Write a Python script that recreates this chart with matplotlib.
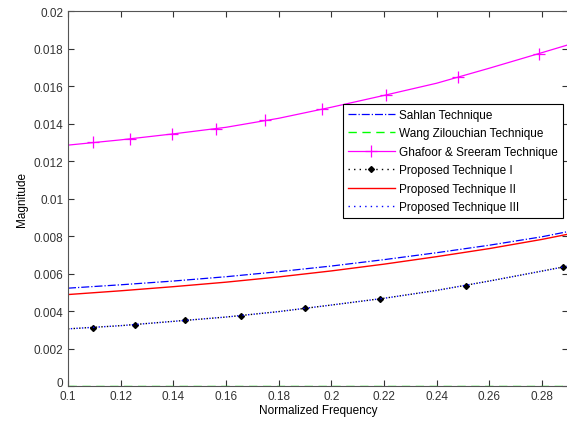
import matplotlib
matplotlib.use("Agg")
import matplotlib.pyplot as plt
import matplotlib.transforms as mtransforms
from matplotlib.lines import Line2D

plt.rcParams["font.family"] = ["Liberation Sans", "DejaVu Sans"]

# curve samples
freq = [0.10, 0.12, 0.14, 0.16, 0.18, 0.20, 0.22, 0.24, 0.26, 0.28, 0.29]
sahlan = [0.00522, 0.00540, 0.00560, 0.00583, 0.00610, 0.00640, 0.00674, 0.00711, 0.00751, 0.00796, 0.00824]
wang = [0.0, 0.0, 0.0, 0.0, 0.0, 0.0, 0.0, 0.0, 0.0, 0.0, 0.0]
ghafoor = [0.01285, 0.01313, 0.01345, 0.01380, 0.01428, 0.01487, 0.01550, 0.01615, 0.01695, 0.01778, 0.0182]
prop1 = [0.00305, 0.00322, 0.00345, 0.00368, 0.00397, 0.00432, 0.00468, 0.00510, 0.00560, 0.00613, 0.0064]
prop2 = [0.00488, 0.00508, 0.00530, 0.00554, 0.00582, 0.00614, 0.00650, 0.00690, 0.00733, 0.00782, 0.00810]
prop3 = [0.00305, 0.00322, 0.00345, 0.00368, 0.00397, 0.00432, 0.00468, 0.00510, 0.00560, 0.00613, 0.0064]

# marker points
ghafoor_mk_f = [0.1095, 0.1236, 0.1395, 0.1563, 0.1749, 0.1966, 0.2209, 0.2483, 0.2791]
ghafoor_mk_v = [0.0130, 0.0132, 0.01345, 0.0137, 0.0142, 0.0148, 0.01552, 0.01646, 0.01773]
prop1_mk_f = [0.1095, 0.1255, 0.1445, 0.1658, 0.1901, 0.2186, 0.2513, 0.2882]
prop1_mk_v = [0.00309, 0.00327, 0.00352, 0.00375, 0.00416, 0.00464, 0.00533, 0.00633]

labels = ["Sahlan Technique", "Wang Zilouchian Technique", "Ghafoor & Sreeram Technique",
          "Proposed Technique I", "Proposed Technique II", "Proposed Technique III"]

fig = plt.figure(figsize=(5.67, 4.31), dpi=100)
ax = fig.add_axes([0.12, 0.102, 0.882, 0.870])

ax.plot(freq, sahlan, color="blue", linestyle="-.", lw=0.9)
ax.plot(freq, wang, color="#00ff00", linestyle=(0, (6, 4)), lw=1.0)
ax.plot(freq, ghafoor, color="magenta", lw=0.9)
ax.plot(ghafoor_mk_f, ghafoor_mk_v, color="magenta", linestyle="none", marker="+", ms=9, mew=0.9)
ax.plot(freq, prop1, color="black", linestyle=(0, (1, 3)), lw=1.0)
ax.plot(prop1_mk_f, prop1_mk_v, color="black", linestyle="none", marker="D", ms=3)
ax.plot(freq, prop2, color="red", lw=1.0)
ax.plot(freq, prop3, color="blue", linestyle=(2, (1, 3)), lw=1.0)

handles = [
    Line2D([], [], color="blue", linestyle="-.", lw=0.9),
    Line2D([], [], color="#00ff00", linestyle=(0, (6, 4)), lw=1.0),
    Line2D([], [], color="magenta", lw=0.9, marker="+", ms=9, mew=0.9),
    Line2D([], [], color="black", linestyle=(0, (1, 3)), lw=1.0, marker="D", ms=3),
    Line2D([], [], color="red", lw=1.0),
    Line2D([], [], color="blue", linestyle=(0, (1, 3)), lw=1.0),
]
leg = ax.legend(handles, labels, loc="upper left", bbox_to_anchor=(0.55, 0.752),
                borderaxespad=0, fontsize=8.5, fancybox=False, framealpha=1,
                edgecolor="black", handlelength=4.0, borderpad=0.4,
                labelspacing=0.55, handletextpad=0.35)
leg.get_frame().set_linewidth(0.8)

ax.set_xlim(0.1, 0.29)
ax.set_ylim(0, 0.02)
ax.set_xticks([0.1, 0.12, 0.14, 0.16, 0.18, 0.2, 0.22, 0.24, 0.26, 0.28])
ax.set_xticklabels(["0.1", "0.12", "0.14", "0.16", "0.18", "0.2", "0.22", "0.24", "0.26", "0.28"])
ax.set_yticks([0, 0.002, 0.004, 0.006, 0.008, 0.01, 0.012, 0.014, 0.016, 0.018, 0.02])
ax.set_yticklabels(["0", "0.002", "0.004", "0.006", "0.008", "0.01", "0.012", "0.014", "0.016", "0.018", "0.02"])
ax.tick_params(direction="in", top=True, right=True, labelsize=8.5, length=4, colors="#333333")
ax.tick_params(axis="x", pad=3)
for s in ax.spines.values():
    s.set_color("#555555")
    s.set_linewidth(0.8)

# nudge the "0" label up a little so it clears "0.1", as in the original
zero_lbl = ax.get_yticklabels()[0]
zero_lbl.set_transform(zero_lbl.get_transform() + mtransforms.ScaledTranslation(0, 3 / 72, fig.dpi_scale_trans))

ax.set_xlabel("Normalized Frequency", fontsize=8.5, labelpad=1)
ax.set_ylabel("Magnitude", fontsize=8.5, labelpad=4)

fig.savefig("out.png", dpi=100)
